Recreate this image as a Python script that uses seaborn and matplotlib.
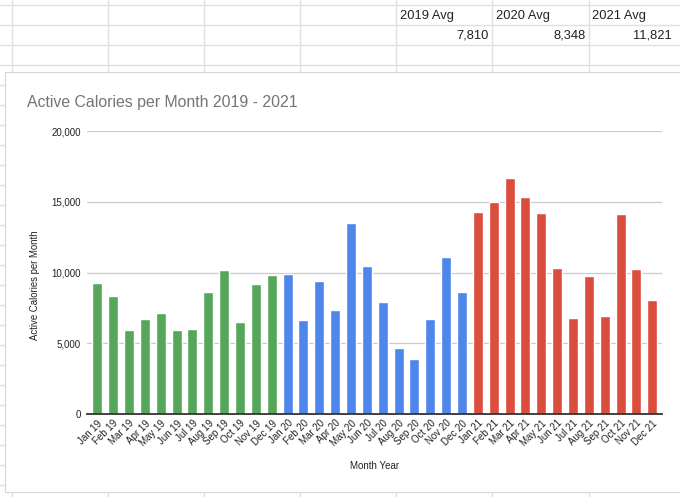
import pandas as pd
import matplotlib.pyplot as plt
import seaborn as sns
from matplotlib.patches import Rectangle
from matplotlib.ticker import FuncFormatter

# monthly active calories
months = ['Jan', 'Feb', 'Mar', 'Apr', 'May', 'Jun',
          'Jul', 'Aug', 'Sep', 'Oct', 'Nov', 'Dec']
years = ['19', '20', '21']
cal_2019 = [9250, 8310, 5960, 6720, 7110, 5960, 6030, 8600, 10150, 6480, 9160, 9790]
cal_2020 = [9860, 6650, 9380, 7380, 13520, 10470, 7940, 4640, 3860, 6720, 11070, 8600]
cal_2021 = [14260, 15010, 16660, 15370, 14190, 10350, 6810, 9780, 6900, 14140, 10270, 8080]

# averages shown in the sheet cells above the chart
avg_labels = ['2019 Avg', '2020 Avg', '2021 Avg']
avg_values = ['7,810', '8,348', '11,821']

year_colors = {'19': '#57a75b', '20': '#4f86ec', '21': '#db4e3e'}

labels = [m + ' ' + y for y in years for m in months]
df = pd.DataFrame({
    'month': labels,
    'calories': cal_2019 + cal_2020 + cal_2021,
    'year': [y for y in years for m in months],
})

sns.set_style('white')
plt.rcParams['font.family'] = ['Liberation Sans', 'DejaVu Sans']

W, H = 680, 497
fig = plt.figure(figsize=(W / 100, H / 100), dpi=100)
fig.patch.set_facecolor('white')


def fx(x):
    return x / W


def fy(y):
    return 1 - y / H


# spreadsheet grid behind the chart
for y in range(5, H, 20):
    fig.add_artist(plt.Line2D([0, 1], [fy(y), fy(y)], color='#e0e0e0', lw=1))
col_x = [11.7, 107.7, 204, 300, 396, 492, 588.5]
for x in col_x:
    fig.add_artist(plt.Line2D([fx(x), fx(x)], [0, 1], color='#e0e0e0', lw=1))

for i in range(3):
    x0 = col_x[4 + i]
    x1 = col_x[5 + i] if 5 + i < len(col_x) else 675
    fig.text(fx(x0 + 4), fy(15.5), avg_labels[i], fontsize=9.3, color='#222222',
             va='center', ha='left')
    fig.text(fx(x1 - 3), fy(35.5), avg_values[i], fontsize=9.3, color='#222222',
             va='center', ha='right')

# chart card
card = Rectangle((fx(5), fy(492)), 1.0, fy(72) - fy(492), transform=fig.transFigure,
                 facecolor='white', edgecolor='#d6d6d6', lw=0.8, zorder=2)
fig.add_artist(card)

fig.text(fx(27), fy(102.5), 'Active Calories per Month 2019 - 2021', fontsize=11.4,
         color='#757575', va='center', ha='left', zorder=3)

ax = fig.add_axes([fx(86.5), fy(414), fx(662) - fx(86.5), fy(131) - fy(414)])
ax.set_zorder(3)
ax.patch.set_alpha(0)

sns.barplot(data=df, x='month', y='calories', hue='year', order=labels,
            palette=year_colors, dodge=False, width=0.63, saturation=1,
            legend=False, ax=ax)

ax.set_xlim(-0.68, 35.61)
ax.set_ylim(0, 20000)
ax.set_yticks([0, 5000, 10000, 15000, 20000])
ax.yaxis.set_major_formatter(FuncFormatter(lambda v, p: f'{int(v):,}'))
ax.yaxis.grid(True, color='#cccccc', lw=0.9)
ax.set_axisbelow(True)

for s in ['top', 'right', 'left']:
    ax.spines[s].set_visible(False)
ax.spines['bottom'].set_color('#333333')
ax.spines['bottom'].set_linewidth(1.3)

ax.tick_params(axis='both', length=0, labelsize=7, colors='#222222')
ax.tick_params(axis='y', pad=4)
ax.tick_params(axis='x', pad=3)
plt.setp(ax.get_xticklabels(), rotation=45, ha='right', rotation_mode='anchor')

ax.set_xlabel('Month Year', fontsize=7, color='#222222')
ax.set_ylabel('Active Calories per Month', fontsize=6.9, color='#222222')
ax.xaxis.label.set_va('center')
ax.yaxis.label.set_va('center')
ax.xaxis.set_label_coords(0.5, -0.183)
ax.yaxis.set_label_coords(-0.09, 0.455)

fig.savefig('out.png', dpi=100)
